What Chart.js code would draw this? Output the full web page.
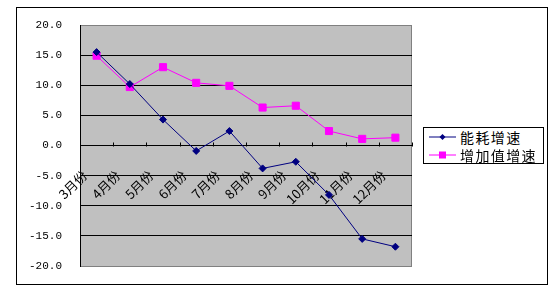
<!DOCTYPE html>
<html>
<head>
<meta charset="utf-8">
<script src="https://cdn.jsdelivr.net/npm/chart.js@4/dist/chart.umd.min.js"></script>
<style>
  body { margin: 0; background: #fff; }
  #wrap { position: relative; width: 559px; height: 294px; }
  #frame { position: absolute; left: 16px; top: 7px; width: 530px; height: 276px; border: 1px solid #000; }
  #chart { position: absolute; left: 0; top: 0; }
  #legend { position: absolute; left: 423px; top: 127px; width: 119px; height: 35px; border: 1px solid #000; background: #fff;
            font: 14px "Noto Sans CJK SC"; letter-spacing: 1.4px; color: #000; }
  #legend div { height: 18px; line-height: 18px; white-space: nowrap; }
  #legend svg { vertical-align: top; margin: 0 4px 0 5px; }
</style>
</head>
<body>
<div id="wrap">
  <div id="frame"></div>
  <canvas id="chart" width="559" height="294"></canvas>
  <div id="legend"></div>
</div>
<script>
// data
var months = ['3月份', '4月份', '5月份', '6月份', '7月份', '8月份', '9月份', '10月份', '11月份', '12月份'];
var energyGrowth = [15.5, 10.2, 4.3, -0.9, 2.4, -3.8, -2.7, -8.2, -15.5, -16.8];
var valueAddedGrowth = [14.9, 9.7, 13.0, 10.4, 9.9, 6.3, 6.6, 2.4, 1.1, 1.3];
var seriesNames = ['能耗增速', '增加值增速'];
var seriesColors = ['#000080', '#FF00FF'];
var yMin = -20, yMax = 20, yStep = 5;

// grey plot area with a grey frame
var plotBackground = {
  id: 'plotBackground',
  beforeDraw: function (chart) {
    var a = chart.chartArea, ctx = chart.ctx;
    ctx.save();
    ctx.fillStyle = '#C0C0C0';
    ctx.fillRect(a.left, a.top, a.right - a.left, a.bottom - a.top);
    ctx.strokeStyle = '#808080';
    ctx.lineWidth = 1;
    ctx.strokeRect(a.left + 0.5, a.top + 0.5, a.right - a.left - 1, a.bottom - a.top);
    ctx.restore();
  }
};

// short tick marks pointing up from the zero line, between categories
var upTicks = {
  id: 'upTicks',
  beforeDatasetsDraw: function (chart) {
    var xs = chart.scales.x, ys = chart.scales.y, ctx = chart.ctx;
    var y0 = Math.round(ys.getPixelForValue(0)) + 0.5;
    ctx.save();
    ctx.strokeStyle = '#000';
    ctx.lineWidth = 1;
    ctx.beginPath();
    for (var i = 0; i <= months.length; i++) {
      var x = Math.round(xs.getPixelForValue(i - 0.5)) + 0.5;
      ctx.moveTo(x, y0);
      ctx.lineTo(x, y0 - 4);
    }
    ctx.stroke();
    ctx.restore();
  }
};

var ctx = document.getElementById('chart').getContext('2d');
var chart = new Chart(ctx, {
  type: 'line',
  data: {
    labels: months,
    datasets: [{
      label: seriesNames[0],
      data: energyGrowth,
      borderColor: seriesColors[0],
      backgroundColor: seriesColors[0],
      borderWidth: 1,
      pointStyle: 'rectRot',
      pointRadius: 3.5,
      tension: 0
    }, {
      label: seriesNames[1],
      data: valueAddedGrowth,
      borderColor: seriesColors[1],
      backgroundColor: seriesColors[1],
      borderWidth: 1,
      pointStyle: 'rect',
      pointRadius: 5,
      tension: 0
    }]
  },
  options: {
    responsive: false,
    animation: false,
    layout: { padding: { top: 25, bottom: 28, left: 0, right: 147 } },
    plugins: { legend: { display: false }, tooltip: { enabled: false } },
    scales: {
      x: {
        position: { y: 0 },
        offset: true,
        grid: { display: false },
        border: { color: '#000' },
        ticks: {
          autoSkip: false,
          minRotation: 45,
          maxRotation: 45,
          labelOffset: -12,
          padding: 14,
          color: '#000',
          font: { family: 'Noto Sans CJK SC', size: 13 }
        }
      },
      y: {
        min: yMin,
        max: yMax,
        afterFit: function (s) { s.width = 80; },
        grid: {
          drawTicks: false,
          color: function (c) { return Math.abs(c.tick.value) === 20 ? '#808080' : '#000'; }
        },
        border: { color: '#000' },
        ticks: {
          stepSize: yStep,
          padding: 18,
          color: '#000',
          font: { family: 'Liberation Mono', size: 11 },
          callback: function (v) { return v.toFixed(1); }
        }
      }
    }
  },
  plugins: [plotBackground, upTicks]
});

// legend box: line with marker, then name
var legend = document.getElementById('legend');
seriesNames.forEach(function (name, i) {
  var mark = i === 0
    ? '<polygon points="13.5,6 16.5,9 13.5,12 10.5,9" fill="' + seriesColors[i] + '"/>'
    : '<rect x="10" y="5.5" width="7" height="7" fill="' + seriesColors[i] + '"/>';
  legend.innerHTML += '<div><svg width="27" height="18"><line x1="0" y1="9" x2="27" y2="9" stroke="' +
    seriesColors[i] + '" stroke-width="1"/>' + mark + '</svg>' + name + '</div>';
});
</script>
</body>
</html>
